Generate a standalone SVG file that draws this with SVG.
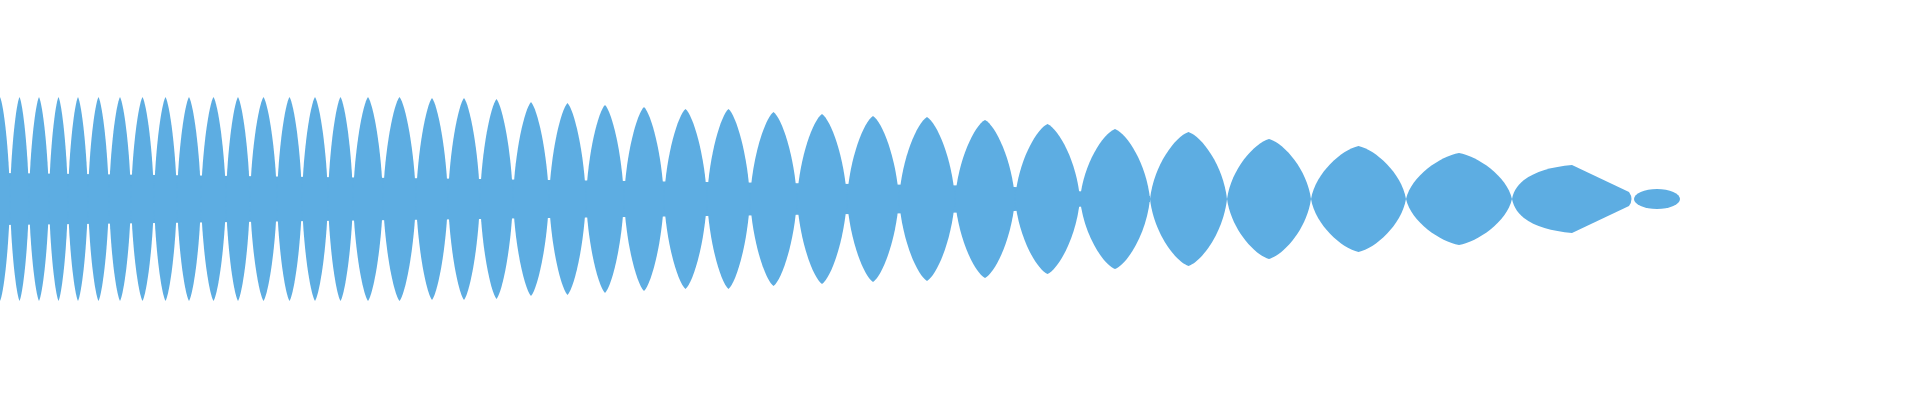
<svg xmlns="http://www.w3.org/2000/svg" width="1920" height="400" viewBox="0 0 1920 400">
<defs>
<style>.w{fill:#5dade2}</style>
<path id="L" d="M-1 0 C-0.9 -0.5 -0.35 -0.93 0 -1 C0.35 -0.93 0.9 -0.5 1 0 C0.9 0.5 0.35 0.93 0 1 C-0.35 0.93 -0.9 0.5 -1 0 Z"/>
</defs>
<rect width="1920" height="400" fill="#fff"/>
<g class="w">
<path d="M0 173 L480 179 L1000 186 L1150 196 L1150 202 L1000 212 L480 219 L0 225 Z"/>
<use href="#L" transform="translate(0,199) scale(10,102)"/>
<use href="#L" transform="translate(19.5,199) scale(9.5,102)"/>
<use href="#L" transform="translate(39,199) scale(10,102)"/>
<use href="#L" transform="translate(58.5,199) scale(9.5,102)"/>
<use href="#L" transform="translate(78,199) scale(10,102)"/>
<use href="#L" transform="translate(98.5,199) scale(10.5,102)"/>
<use href="#L" transform="translate(120,199) scale(11,102)"/>
<use href="#L" transform="translate(142.5,199) scale(11.5,102)"/>
<use href="#L" transform="translate(165.5,199) scale(11.5,102)"/>
<use href="#L" transform="translate(189,199) scale(12,102)"/>
<use href="#L" transform="translate(213.5,199) scale(12.5,102)"/>
<use href="#L" transform="translate(238,199) scale(12,102)"/>
<use href="#L" transform="translate(263.5,199) scale(13.5,102)"/>
<use href="#L" transform="translate(289.5,199) scale(12.5,102)"/>
<use href="#L" transform="translate(315,199) scale(13,102)"/>
<use href="#L" transform="translate(340.5,199) scale(12.5,102)"/>
<use href="#L" transform="translate(368,199) scale(15,102)"/>
<use href="#L" transform="translate(399.5,199) scale(16.5,102)"/>
<use href="#L" transform="translate(432,199) scale(16,101)"/>
<use href="#L" transform="translate(464,199) scale(16,101)"/>
<use href="#L" transform="translate(496.5,199) scale(16.5,100)"/>
<use href="#L" transform="translate(531,199) scale(18,97)"/>
<use href="#L" transform="translate(567.5,199) scale(18.5,96)"/>
<use href="#L" transform="translate(605,199) scale(19,94)"/>
<use href="#L" transform="translate(644,199) scale(20,92)"/>
<use href="#L" transform="translate(685.5,199) scale(21.5,90)"/>
<use href="#L" transform="translate(728.5,199) scale(21.5,90)"/>
<use href="#L" transform="translate(773.5,199) scale(23.5,87)"/>
<use href="#L" transform="translate(822,199) scale(25,85)"/>
<use href="#L" transform="translate(873,199) scale(26,83)"/>
<use href="#L" transform="translate(927,199) scale(28,82)"/>
<use href="#L" transform="translate(985,199) scale(30,79)"/>
<use href="#L" transform="translate(1047.5,199) scale(32.5,75)"/>
<use href="#L" transform="translate(1115,199) scale(35,70)"/>
<use href="#L" transform="translate(1188.5,199) scale(38.5,67)"/>
<use href="#L" transform="translate(1269,199) scale(42,60)"/>
<use href="#L" transform="translate(1358.5,199) scale(47.5,53)"/>
<use href="#L" transform="translate(1459,199) scale(53,46)"/>
<path d="M1512 199 C1516 178 1540 168 1572 165 L1629 192 Q1634 199 1629 206 L1572 233 C1540 230 1516 220 1512 199 Z"/>
<ellipse cx="1657" cy="199" rx="23" ry="10"/>
</g>
</svg>
